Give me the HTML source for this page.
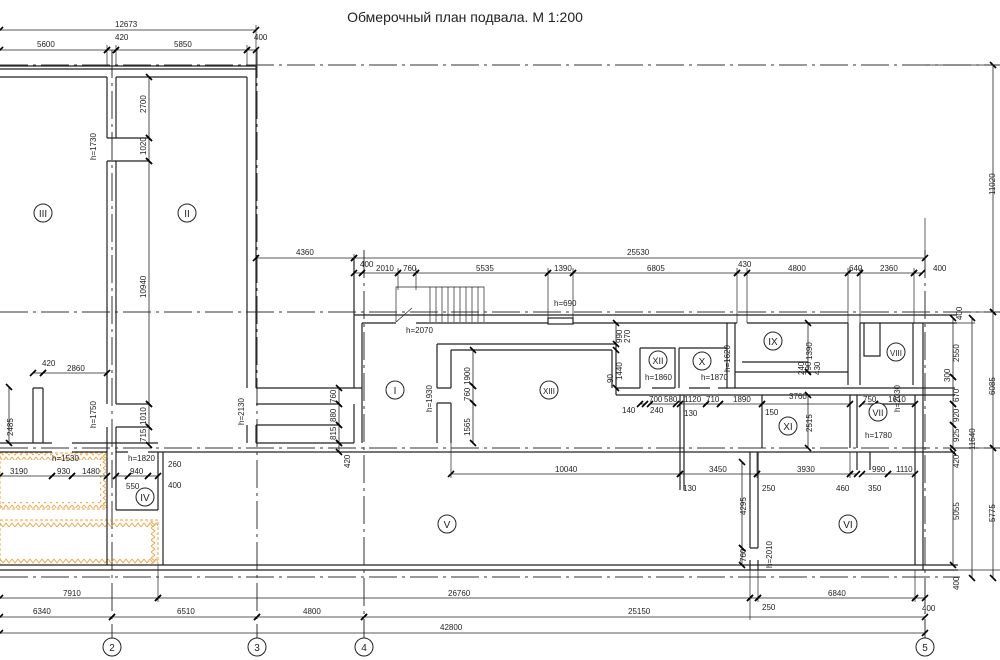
<!DOCTYPE html>
<html><head><meta charset="utf-8"><style>
html,body{margin:0;padding:0;background:#fff;}
svg{display:block;font-family:"Liberation Sans",sans-serif;}
.ax{stroke:#333;stroke-width:1;stroke-dasharray:28 5 3 5;fill:none}
.w{stroke:#222;stroke-width:1.2;fill:none}
.d{stroke:#222;stroke-width:0.8;fill:none;marker-start:url(#t);marker-end:url(#t)}
.e{stroke:#222;stroke-width:0.7;fill:none}
text{font-size:8px;fill:#222}
.c{fill:#fff;stroke:#222;stroke-width:1}
.rl{font-size:10px;text-anchor:middle}
.h{stroke:#f0a040;stroke-width:1;fill:none}
</style></head><body>
<svg width="1000" height="660" viewBox="0 0 1000 660" xmlns="http://www.w3.org/2000/svg">
<defs>
<marker id="t" markerUnits="userSpaceOnUse" markerWidth="10" markerHeight="10" refX="5" refY="5" orient="auto">
<line x1="2" y1="8" x2="8" y2="2" stroke="#000" stroke-width="1.6"/>
</marker>
<pattern id="zz" width="12" height="6" patternUnits="userSpaceOnUse">
<polyline points="0,1 3,5 6,1 9,5 12,1" stroke="#f0a040" stroke-width="0.9" fill="none"/>
</pattern>
<pattern id="zv" width="6" height="12" patternUnits="userSpaceOnUse">
<polyline points="1,0 5,3 1,6 5,9 1,12" stroke="#f0a040" stroke-width="0.9" fill="none"/>
</pattern>
</defs>
<text x="465" y="22" style="font-size:14px" text-anchor="middle">Обмерочный план подвала. М 1:200</text>

<!-- axes -->
<line class="ax" x1="0" y1="65" x2="1000" y2="65"/>
<line class="ax" x1="0" y1="312" x2="1000" y2="312"/>
<line class="ax" x1="0" y1="448" x2="1000" y2="448"/>
<line class="ax" x1="0" y1="577" x2="960" y2="577"/>
<line class="ax" x1="112" y1="50" x2="112" y2="638"/>
<line class="ax" x1="257" y1="50" x2="257" y2="638"/>
<line class="ax" x1="364" y1="250" x2="364" y2="638"/>
<line class="ax" x1="925" y1="250" x2="925" y2="638"/>
<circle class="c" cx="112" cy="647" r="9"/><text class="rl" x="112" y="651">2</text>
<circle class="c" cx="257" cy="647" r="9"/><text class="rl" x="257" y="651">3</text>
<circle class="c" cx="364" cy="647" r="9"/><text class="rl" x="364" y="651">4</text>
<circle class="c" cx="925" cy="647" r="9"/><text class="rl" x="925" y="651">5</text>

<!-- hatched areas (zigzag borders) -->
<rect x="0" y="453" width="107" height="56" fill="none" stroke="#f0a040" stroke-dasharray="3 2"/>
<rect x="0" y="454" width="107" height="6" fill="url(#zz)"/>
<rect x="0" y="502" width="107" height="6" fill="url(#zz)"/>
<rect x="100" y="454" width="6" height="54" fill="url(#zv)"/>
<rect x="0" y="520" width="158" height="45" fill="none" stroke="#f0a040" stroke-dasharray="3 2"/>
<rect x="0" y="521" width="158" height="6" fill="url(#zz)"/>
<rect x="0" y="558" width="158" height="6" fill="url(#zz)"/>
<rect x="151" y="521" width="6" height="43" fill="url(#zv)"/>

<!-- left building walls -->
<path class="w" d="M0 66H256 M0 69H256 M0 77H107 M116 77H247"/>
<path class="w" d="M107 77V138 M116 77V138 M107 138H116 M107 161V404 M116 161V404 M107 161H116 M116 138H149 M116 161H149"/>
<path class="w" d="M107 427V565 M116 427V452 M116 404H149 M116 427H149"/>
<path class="w" d="M247 77V388 M256 66V388 M247 425V443 M256 425V443"/>
<path class="w" d="M0 443H52 M72 443H158 M0 452H52 M72 452H107 M116 452H128 M148 452H955"/>
<path class="w" d="M116 452V510 M158 452V510 M116 510H158 M163 452V565 M0 565H958 M0 570H958"/>
<path class="w" d="M33 388V443 M43 388V443 M33 388H43"/>
<path class="w" d="M256 388H362 M256 404H340 M256 425H340 M256 443H354 M354 258V388 M362 323V443 M354 404V443"/>

<!-- right building -->
<path class="w" d="M354 315H957 M362 323H396 M416 323H548 M573 323H737 M747 323H848 M860 323H957"/>
<rect x="548" y="318" width="25" height="6" class="w"/>
<path class="e" d="M396 322V287H484V322 M396 322 L412 308"/>
<path class="e" d="M430 287V322 M436 287V322 M442 287V322 M448 287V322 M454 287V322 M460 287V322 M466 287V322 M472 287V322 M478 287V322"/>
<path class="w" d="M437 344H616 M451 350H612 M437 344V388 M451 350V388 M437 403V443 M451 403V443 M437 388H451 M437 403H451 M612 350V388"/>
<path class="w" d="M616 344V395 M640 348H675V388 M679 348H727 M640 348V388 M679 348V388 M727 323V388 M735 323V388"/>
<path class="w" d="M735 372H848 M742 362H808 M848 323V385 M860 323V385 M913 323V385 M864 323V356H880V323"/>
<path class="w" d="M616 388H640 M652 388H675 M689 388H710 M718 388H955 M616 395H955"/>
<path class="w" d="M680 395V490 M684 395V490 M762 395V448 M850 395V448 M857 395V448 M868 404H915 M915 395V565 M923 323V570"/>
<path class="w" d="M750 452V548 M758 452V548 M750 548H758 M750 560V570 M758 560V570 M857 452V470 M870 452V470"/>

<!-- dimensions top -->
<line class="d" x1="0" y1="30" x2="256" y2="30"/><text x="115" y="27">12673</text>
<path class="e" d="M256 25V66 M107 45V66 M116 45V66 M247 45V66"/>
<line class="d" x1="0" y1="50" x2="107" y2="50"/><text x="37" y="47">5600</text>
<line class="d" x1="107" y1="50" x2="116" y2="50"/><text x="115" y="40">420</text>
<line class="d" x1="116" y1="50" x2="247" y2="50"/><text x="174" y="47">5850</text>
<line class="d" x1="247" y1="50" x2="256" y2="50"/><text x="254" y="40">400</text>
<line class="d" x1="149" y1="77" x2="149" y2="138"/>
<line class="d" x1="149" y1="138" x2="149" y2="161"/>
<line class="d" x1="149" y1="161" x2="149" y2="404"/>
<line class="d" x1="149" y1="404" x2="149" y2="427"/>
<line class="d" x1="149" y1="427" x2="149" y2="445"/>
<g transform="rotate(-90)">
<text x="-113" y="146">2700</text><text x="-155" y="146">1020</text><text x="-298" y="146">10940</text>
<text x="-425" y="146">1010</text><text x="-442" y="146">715</text>
<text x="-160" y="96">h=1730</text><text x="-428" y="96">h=1750</text><text x="-425" y="244">h=2130</text>
<text x="-436" y="13">2485</text>
<text x="-403" y="336">760</text><text x="-422" y="336">880</text><text x="-440" y="336">815</text>
<text x="-385" y="470">1900</text><text x="-401" y="470">760</text><text x="-436" y="470">1565</text>
<text x="-412" y="432">h=1930</text>
<text x="-343" y="622">990</text><text x="-343" y="630">270</text>
<text x="-380" y="622">1440</text><text x="-383" y="613">90</text>
<text x="-372" y="730">h=1620</text>
<text x="-360" y="812">1390</text><text x="-375" y="804">240</text><text x="-375" y="811">790</text><text x="-375" y="820">430</text>
<text x="-432" y="812">2515</text>
<text x="-412" y="900">h=2030</text>
<text x="-362" y="959">2550</text><text x="-382" y="950">300</text><text x="-402" y="959">670</text><text x="-422" y="959">920</text><text x="-442" y="959">925</text><text x="-468" y="959">420</text>
<text x="-520" y="959">5055</text><text x="-590" y="959">400</text><text x="-320" y="962">400</text>
<text x="-195" y="995">11020</text><text x="-395" y="995">6085</text><text x="-450" y="975">11640</text><text x="-522" y="995">5775</text>
<text x="-515" y="746">4295</text><text x="-562" y="746">760</text><text x="-568" y="772">h=2010</text>
<text x="-468" y="350">420</text>
</g>
<line class="d" x1="256" y1="258" x2="354" y2="258"/><text x="296" y="255">4360</text>
<line class="d" x1="354" y1="258" x2="925" y2="258"/><text x="627" y="255">25530</text>
<path class="e" d="M925 218V258 M354 254V320 M737 268V323 M747 268V323 M848 268V323 M860 268V323 M914 268V323 M548 268V318 M573 268V318 M398 268V290 M416 268V290"/>
<line class="d" x1="354" y1="273" x2="362" y2="273"/><text x="360" y="267">400</text>
<line class="d" x1="362" y1="273" x2="398" y2="273"/><text x="376" y="271">2010</text>
<line class="d" x1="398" y1="273" x2="416" y2="273"/><text x="403" y="271">760</text>
<line class="d" x1="416" y1="273" x2="548" y2="273"/><text x="476" y="271">5535</text>
<line class="d" x1="548" y1="273" x2="573" y2="273"/><text x="554" y="271">1390</text>
<line class="d" x1="573" y1="273" x2="737" y2="273"/><text x="647" y="271">6805</text>
<line class="d" x1="737" y1="273" x2="747" y2="273"/><text x="738" y="267">430</text>
<line class="d" x1="747" y1="273" x2="848" y2="273"/><text x="788" y="271">4800</text>
<line class="d" x1="848" y1="273" x2="860" y2="273"/><text x="849" y="271">640</text>
<line class="d" x1="860" y1="273" x2="914" y2="273"/><text x="880" y="271">2360</text>
<line class="d" x1="914" y1="273" x2="922" y2="273"/><text x="933" y="271">400</text>
<line class="d" x1="993" y1="65" x2="993" y2="312"/>
<line class="d" x1="993" y1="312" x2="993" y2="448"/>
<line class="d" x1="993" y1="448" x2="993" y2="578"/>
<line class="d" x1="972" y1="318" x2="972" y2="578"/>
<line class="d" x1="953" y1="318" x2="953" y2="377"/>
<line class="d" x1="953" y1="377" x2="953" y2="404"/>
<line class="d" x1="953" y1="404" x2="953" y2="425"/>
<line class="d" x1="953" y1="425" x2="953" y2="448"/>
<line class="d" x1="953" y1="452" x2="953" y2="565"/>
<path class="e" d="M957 323H975 M955 448H1000 M925 570H1000 M957 312H1000 M925 65H1000"/>

<!-- left area dims -->
<line class="d" x1="33" y1="373" x2="43" y2="373"/><text x="42" y="366">420</text>
<line class="d" x1="43" y1="373" x2="107" y2="373"/><text x="67" y="371">2860</text>
<line class="d" x1="9" y1="387" x2="9" y2="443"/>
<line class="d" x1="0" y1="476" x2="52" y2="476"/><text x="10" y="474">3190</text>
<line class="d" x1="52" y1="476" x2="72" y2="476"/><text x="57" y="474">930</text>
<line class="d" x1="72" y1="476" x2="107" y2="476"/><text x="82" y="474">1480</text>
<line class="d" x1="116" y1="476" x2="128" y2="476"/>
<line class="d" x1="128" y1="476" x2="148" y2="476"/><text x="130" y="474">940</text>
<line class="d" x1="148" y1="476" x2="158" y2="476"/>
<text x="126" y="489">550</text><text x="168" y="467">260</text><text x="168" y="488">400</text>
<text x="52" y="461">h=1530</text><text x="128" y="461">h=1820</text>
<line class="d" x1="339" y1="388" x2="339" y2="404"/>
<line class="d" x1="339" y1="404" x2="339" y2="425"/>
<line class="d" x1="339" y1="425" x2="339" y2="443"/>
<line class="d" x1="339" y1="443" x2="339" y2="452"/>
<line class="d" x1="473" y1="350" x2="473" y2="386"/>
<line class="d" x1="473" y1="386" x2="473" y2="403"/>
<line class="d" x1="473" y1="403" x2="473" y2="443"/>
<line class="d" x1="616" y1="323" x2="616" y2="344"/>
<line class="d" x1="616" y1="350" x2="616" y2="388"/>
<line class="d" x1="808" y1="323" x2="808" y2="372"/>
<line class="d" x1="808" y1="395" x2="808" y2="448"/>
<line class="d" x1="742" y1="462" x2="742" y2="548"/>
<line class="d" x1="742" y1="548" x2="742" y2="565"/>

<text x="406" y="333">h=2070</text><text x="554" y="306">h=690</text>
<text x="645" y="380">h=1860</text><text x="701" y="380">h=1870</text><text x="865" y="438">h=1780</text>

<line class="d" x1="640" y1="404" x2="645" y2="404"/>
<line class="d" x1="650" y1="404" x2="676" y2="404"/><text x="649" y="402">700</text><text x="664" y="402">580</text>
<line class="d" x1="680" y1="404" x2="706" y2="404"/><text x="684" y="402">1120</text>
<line class="d" x1="706" y1="404" x2="720" y2="404"/><text x="706" y="402">710</text>
<line class="d" x1="720" y1="404" x2="762" y2="404"/><text x="733" y="402">1890</text>
<line class="d" x1="762" y1="404" x2="850" y2="404"/><text x="789" y="399">3760</text>
<line class="d" x1="862" y1="404" x2="875" y2="404"/><text x="863" y="402">750</text>
<line class="d" x1="875" y1="404" x2="915" y2="404"/><text x="888" y="402">1610</text>
<text x="622" y="413">140</text><text x="650" y="413">240</text><text x="684" y="416">130</text><text x="765" y="415">150</text>

<line class="d" x1="451" y1="474" x2="680" y2="474"/><text x="555" y="472">10040</text>
<line class="d" x1="680" y1="474" x2="757" y2="474"/><text x="709" y="472">3450</text>
<line class="d" x1="757" y1="474" x2="850" y2="474"/><text x="797" y="472">3930</text>
<line class="d" x1="850" y1="474" x2="857" y2="474"/>
<line class="d" x1="862" y1="474" x2="888" y2="474"/><text x="872" y="472">990</text>
<line class="d" x1="888" y1="474" x2="915" y2="474"/><text x="896" y="472">1110</text>
<text x="683" y="491">130</text><text x="762" y="491">250</text><text x="836" y="491">460</text><text x="868" y="491">350</text>
<path class="e" d="M451 443V478 M757 452V478 M850 452V478"/>

<path class="e" d="M158 565V602 M750 570V620 M758 570V602 M915 570V602"/>
<line class="d" x1="0" y1="598" x2="158" y2="598"/><text x="63" y="596">7910</text>
<line class="d" x1="158" y1="598" x2="750" y2="598"/><text x="448" y="596">26760</text>
<line class="d" x1="750" y1="598" x2="758" y2="598"/>
<line class="d" x1="758" y1="598" x2="915" y2="598"/><text x="828" y="596">6840</text>
<line class="d" x1="915" y1="598" x2="925" y2="598"/>
<text x="762" y="610">250</text><text x="922" y="611">400</text>
<line class="d" x1="0" y1="617" x2="112" y2="617"/><text x="33" y="614">6340</text>
<line class="d" x1="112" y1="617" x2="257" y2="617"/><text x="177" y="614">6510</text>
<line class="d" x1="257" y1="617" x2="364" y2="617"/><text x="303" y="614">4800</text>
<line class="d" x1="364" y1="617" x2="925" y2="617"/><text x="628" y="614">25150</text>
<line class="d" x1="0" y1="633" x2="925" y2="633"/><text x="440" y="630">42800</text>

<g>
<circle class="c" cx="43" cy="213" r="9"/><text class="rl" x="43" y="217">III</text>
<circle class="c" cx="187" cy="213" r="9"/><text class="rl" x="187" y="217">II</text>
<circle class="c" cx="395" cy="390" r="9"/><text class="rl" x="395" y="394">I</text>
<circle class="c" cx="145" cy="497" r="9"/><text class="rl" x="145" y="501">IV</text>
<circle class="c" cx="447" cy="524" r="9"/><text class="rl" x="447" y="528">V</text>
<circle class="c" cx="848" cy="524" r="9"/><text class="rl" x="848" y="528">VI</text>
<circle class="c" cx="878" cy="412" r="9"/><text class="rl" x="878" y="416" style="font-size:9px">VII</text>
<circle class="c" cx="896" cy="352" r="9"/><text class="rl" x="896" y="356" style="font-size:8px">VIII</text>
<circle class="c" cx="773" cy="341" r="9"/><text class="rl" x="773" y="345">IX</text>
<circle class="c" cx="702" cy="361" r="9"/><text class="rl" x="702" y="365">X</text>
<circle class="c" cx="788" cy="426" r="9"/><text class="rl" x="788" y="430">XI</text>
<circle class="c" cx="658" cy="360" r="9"/><text class="rl" x="658" y="364" style="font-size:9px">XII</text>
<circle class="c" cx="549" cy="390" r="9"/><text class="rl" x="549" y="394" style="font-size:8px">XIII</text>
</g>
</svg>
</body></html>
